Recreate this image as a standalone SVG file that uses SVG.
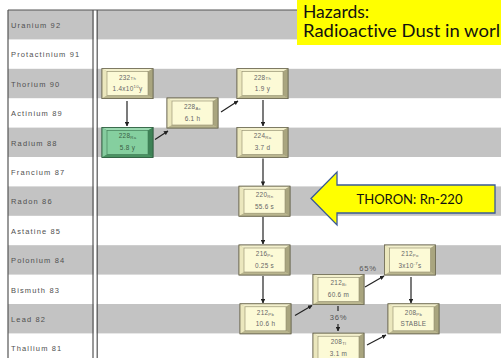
<svg xmlns="http://www.w3.org/2000/svg" xmlns:xlink="http://www.w3.org/1999/xlink" width="501" height="358" viewBox="0 0 501 358">
<style>
.row{fill:#c3c3c3}
.lbl{font-family:"Liberation Sans",Arial,sans-serif;font-size:7.5px;fill:#505050;letter-spacing:1.15px}
.nt{font-family:"Liberation Sans",Arial,sans-serif;font-size:6.4px;fill:#666;text-anchor:middle;letter-spacing:0.3px}
.sub{font-size:4.3px}
.frame{stroke:#555;stroke-width:1.2;fill:none}
.con{stroke:#222;stroke-width:1.2;fill:none}
.pct{font-family:"Liberation Sans",Arial,sans-serif;font-size:7.6px;fill:#555;text-anchor:middle;letter-spacing:0.8px}
.hz{font-family:Lato,"Open Sans",sans-serif;font-size:17.5px;fill:#111;font-variant-ligatures:none}
</style>
<defs>
<marker id="ah" viewBox="0 0 10 10" refX="9" refY="5" markerWidth="4.5" markerHeight="4.5" orient="auto" markerUnits="userSpaceOnUse">
<path d="M0,0 L10,5 L0,10 Z" fill="#222"/>
</marker>
<g id="bev">
<rect x="0" y="0" width="51" height="30" fill="#c9c59c" stroke="#6f6c55" stroke-width="0.8"/>
<polygon points="0,0 51,0 46,3 5,3" fill="#f3f0cd"/>
<polygon points="0,0 5,3 5,27 0,30" fill="#ebe7bd"/>
<polygon points="51,0 51,30 46,27 46,3" fill="#a9a57f"/>
<polygon points="0,30 51,30 46,27 5,27" fill="#bab68f"/>
<rect x="5" y="3" width="41" height="24" fill="#fcfad6" stroke="#8f8b6c" stroke-width="0.6"/>
<rect x="0" y="0" width="51" height="30" fill="none" stroke="#6f6c55" stroke-width="0.8"/>
</g>
<g id="bevg">
<rect x="0" y="0" width="51" height="30" fill="#4f9a6a" stroke="#2f5e40" stroke-width="0.8"/>
<polygon points="0,0 51,0 46,3 5,3" fill="#9ad8b0"/>
<polygon points="0,0 5,3 5,27 0,30" fill="#86cc9f"/>
<polygon points="51,0 51,30 46,27 46,3" fill="#3e8256"/>
<polygon points="0,30 51,30 46,27 5,27" fill="#4a9262"/>
<rect x="5" y="3" width="41" height="24" fill="#85cf9f" stroke="#3f7a55" stroke-width="0.6"/>
<rect x="0" y="0" width="51" height="30" fill="none" stroke="#2f5e40" stroke-width="0.8"/>
</g>
</defs>
<rect width="501" height="358" fill="#fff"/>
<g id="rows">
<rect class="row" x="8" y="10" width="493" height="29.4"/>
<rect class="row" x="8" y="68.8" width="493" height="29.4"/>
<rect class="row" x="8" y="127.6" width="493" height="29.4"/>
<rect class="row" x="8" y="186.4" width="493" height="29.4"/>
<rect class="row" x="8" y="245.2" width="493" height="29.4"/>
<rect class="row" x="8" y="304" width="493" height="29.4"/>
<rect x="93.6" y="10" width="3" height="348" fill="#fff"/>
</g>
<g id="frame">
<line class="frame" x1="8" y1="10" x2="501" y2="10" stroke-width="1.5"/>
<line class="frame" x1="8" y1="10" x2="8" y2="358"/>
<line class="frame" x1="93" y1="10" x2="93" y2="358"/>
<line class="frame" x1="97.2" y1="10" x2="97.2" y2="358"/>
</g>
<g id="labels">
<text class="lbl" x="11" y="28">Uranium 92</text>
<text class="lbl" x="11" y="57.4">Protactinium 91</text>
<text class="lbl" x="11" y="86.8">Thorium 90</text>
<text class="lbl" x="11" y="116.2">Actinium 89</text>
<text class="lbl" x="11" y="145.6">Radium 88</text>
<text class="lbl" x="11" y="175">Francium 87</text>
<text class="lbl" x="11" y="204.4">Radon 86</text>
<text class="lbl" x="11" y="233.8">Astatine 85</text>
<text class="lbl" x="11" y="263.2">Polonium 84</text>
<text class="lbl" x="11" y="292.6">Bismuth 83</text>
<text class="lbl" x="11" y="322">Lead 82</text>
<text class="lbl" x="11" y="351.4">Thallium 81</text>
</g>
<g id="connectors">
<line class="con" x1="127" y1="101" x2="127" y2="126" marker-end="url(#ah)"/>
<line class="con" x1="155" y1="139.5" x2="168" y2="131" marker-end="url(#ah)"/>
<line class="con" x1="221" y1="112" x2="238" y2="101" marker-end="url(#ah)"/>
<line class="con" x1="263" y1="100" x2="263" y2="126" marker-end="url(#ah)"/>
<line class="con" x1="263" y1="158.5" x2="263" y2="185.5" marker-end="url(#ah)"/>
<line class="con" x1="263" y1="217" x2="263" y2="244" marker-end="url(#ah)"/>
<line class="con" x1="263" y1="276" x2="263" y2="303" marker-end="url(#ah)"/>
<line class="con" x1="295" y1="315.5" x2="312" y2="305.5" marker-end="url(#ah)"/>
<line class="con" x1="365" y1="287" x2="384" y2="276" marker-end="url(#ah)"/>
<line class="con" x1="411" y1="277" x2="411" y2="303" marker-end="url(#ah)"/>
<line class="con" x1="338" y1="306" x2="338" y2="311"/>
<line class="con" x1="338" y1="324" x2="338" y2="331" marker-end="url(#ah)"/>
<line class="con" x1="367" y1="345" x2="386" y2="335" marker-end="url(#ah)"/>
<text class="pct" x="368" y="270.5">65%</text>
<text class="pct" x="338.5" y="320">36%</text>
</g>
<g id="th232" transform="translate(102,68.6)"><use xlink:href="#bev"/><text class="nt" x="25.5" y="11">232<tspan class="sub" dy="0.8">Th</tspan></text><text class="nt" x="25.5" y="22.5">1.4x10<tspan class="sub" dy="-2.6">10</tspan><tspan dy="2.6">y</tspan></text></g>
<g id="ra228" transform="translate(102,127.4)"><use xlink:href="#bevg"/><text class="nt" x="25.5" y="11" style="fill:#3b5f46">228<tspan class="sub" dy="0.8">Ra</tspan></text><text class="nt" x="25.5" y="22.5" style="fill:#3b5f46">5.8 y</text></g>
<g id="ac228" transform="translate(167,98)"><use xlink:href="#bev"/><text class="nt" x="25.5" y="11">228<tspan class="sub" dy="0.8">Ac</tspan></text><text class="nt" x="25.5" y="22.5">6.1 h</text></g>
<g id="th228" transform="translate(237,68.6)"><use xlink:href="#bev"/><text class="nt" x="25.5" y="11">228<tspan class="sub" dy="0.8">Th</tspan></text><text class="nt" x="25.5" y="22.5">1.9 y</text></g>
<g id="ra224" transform="translate(237,127.4)"><use xlink:href="#bev"/><text class="nt" x="25.5" y="11">224<tspan class="sub" dy="0.8">Ra</tspan></text><text class="nt" x="25.5" y="22.5">3.7 d</text></g>
<g id="rn220" transform="translate(239,186.2)"><use xlink:href="#bev"/><text class="nt" x="25.5" y="11">220<tspan class="sub" dy="0.8">Rn</tspan></text><text class="nt" x="25.5" y="22.5">55.6 s</text></g>
<g id="po216" transform="translate(239,245)"><use xlink:href="#bev"/><text class="nt" x="25.5" y="11">216<tspan class="sub" dy="0.8">Po</tspan></text><text class="nt" x="25.5" y="22.5">0.25 s</text></g>
<g id="pb212" transform="translate(240,303.8)"><use xlink:href="#bev"/><text class="nt" x="25.5" y="11">212<tspan class="sub" dy="0.8">Pb</tspan></text><text class="nt" x="25.5" y="22.5">10.6 h</text></g>
<g id="bi212" transform="translate(313,274.4)"><use xlink:href="#bev"/><text class="nt" x="25.5" y="11">212<tspan class="sub" dy="0.8">Bi</tspan></text><text class="nt" x="25.5" y="22.5">60.6 m</text></g>
<g id="tl208" transform="translate(313,333.2)"><use xlink:href="#bev"/><text class="nt" x="25.5" y="11">208<tspan class="sub" dy="0.8">Tl</tspan></text><text class="nt" x="25.5" y="22.5">3.1 m</text></g>
<g id="po212" transform="translate(384.5,245)"><use xlink:href="#bev"/><text class="nt" x="25.5" y="11">212<tspan class="sub" dy="0.8">Po</tspan></text><text class="nt" x="25.5" y="22.5">3x10<tspan class="sub" dy="-2.6">-7</tspan><tspan dy="2.6">s</tspan></text></g>
<g id="pb208" transform="translate(388,303.8)"><use xlink:href="#bev"/><text class="nt" x="25.5" y="11">208<tspan class="sub" dy="0.8">Pb</tspan></text><text class="nt" x="25.5" y="22.5">STABLE</text></g>
<g id="thoron">
<polygon points="311,198.5 337,172 337,185 495,185 495,213 337,213 337,225" fill="#ffff00" stroke="#3a5a96" stroke-width="1.3" stroke-linejoin="miter"/>
<text x="409.5" y="204" font-family="Lato,'Open Sans',sans-serif" font-size="14px" fill="#111" text-anchor="middle" textLength="106" lengthAdjust="spacingAndGlyphs">THORON: Rn-220</text>
</g>
<g id="hazards">
<rect x="297" y="0" width="204" height="45" fill="#ffff00"/>
<text class="hz" x="303" y="17.5">Hazards:</text>
<text class="hz" x="303" y="37" textLength="197" lengthAdjust="spacingAndGlyphs">Radioactive Dust in worl</text>
</g>
</svg>
